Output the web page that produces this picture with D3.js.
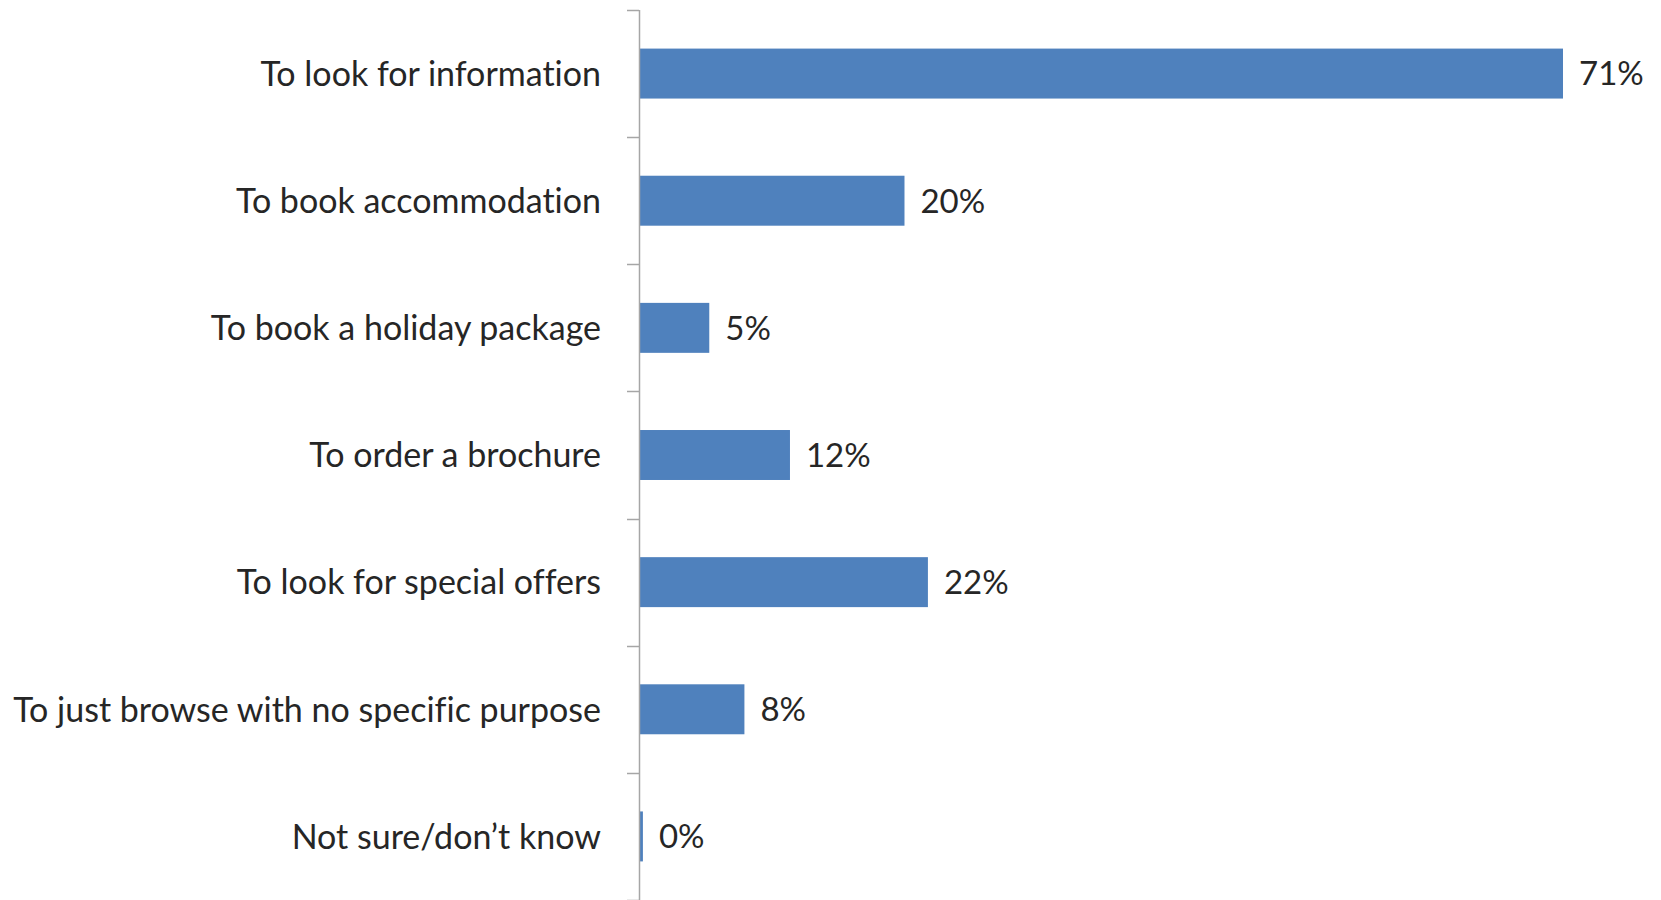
<!DOCTYPE html>
<html>
<head>
<meta charset="utf-8">
<script src="https://cdn.jsdelivr.net/npm/d3@7"></script>
<style>
  html, body { margin: 0; padding: 0; background: #ffffff; }
  svg { display: block; }
  text { font-family: "Lato", "Open Sans", sans-serif; fill: #262626; font-variant-ligatures: none; }
</style>
</head>
<body>
<div id="chart"></div>
<script>
const categories = [
  "To look for information",
  "To book accommodation",
  "To book a holiday package",
  "To order a brochure",
  "To look for special offers",
  "To just browse with no specific purpose",
  "Not sure/don\u2019t know"
];
const values = [71.0, 20.4, 5.4, 11.6, 22.2, 8.1, 0.3];
const valueLabels = ["71%", "20%", "5%", "12%", "22%", "8%", "0%"];

const W = 1661, H = 900;
const axisX = 639;
const svg = d3.select("#chart").append("svg").attr("width", W).attr("height", H);

const y = d3.scaleBand()
  .domain(categories)
  .range([10, 900])
  .paddingInner(0.607)
  .paddingOuter(0.3035);

const x = d3.scaleLinear().domain([0, 71]).range([axisX, 1563]);

// bars
svg.selectAll("rect.bar")
  .data(categories)
  .join("rect")
  .attr("class", "bar")
  .attr("x", x(0))
  .attr("y", d => y(d))
  .attr("width", (d, i) => x(values[i]) - x(0))
  .attr("height", y.bandwidth())
  .attr("fill", "#4F81BD");

// axis line
const step = y.step();
svg.append("line")
  .attr("x1", axisX + 0.5).attr("x2", axisX + 0.5)
  .attr("y1", 10).attr("y2", 10 + step * categories.length)
  .attr("stroke", "#A6A6A6").attr("stroke-width", 1.5);

// tick marks at band boundaries
const boundaries = d3.range(categories.length + 1).map(i => 10 + i * step);
svg.selectAll("line.tick")
  .data(boundaries)
  .join("line")
  .attr("class", "tick")
  .attr("x1", axisX - 12).attr("x2", axisX)
  .attr("y1", d => Math.round(d) + 0.5).attr("y2", d => Math.round(d) + 0.5)
  .attr("stroke", "#A6A6A6").attr("stroke-width", 1.5);

// category labels
svg.selectAll("text.cat")
  .data(categories)
  .join("text")
  .attr("class", "cat")
  .attr("x", axisX - 38)
  .attr("y", d => y(d) + y.bandwidth() / 2)
  .attr("dy", "0.36em")
  .attr("text-anchor", "end")
  .style("font-size", "34px")
  .text(d => d);

// value labels
svg.selectAll("text.val")
  .data(categories)
  .join("text")
  .attr("class", "val")
  .attr("x", (d, i) => x(values[i]) + 16)
  .attr("y", d => y(d) + y.bandwidth() / 2)
  .attr("dy", "0.36em")
  .attr("text-anchor", "start")
  .style("font-size", "33px")
  .text((d, i) => valueLabels[i]);
</script>
</body>
</html>
